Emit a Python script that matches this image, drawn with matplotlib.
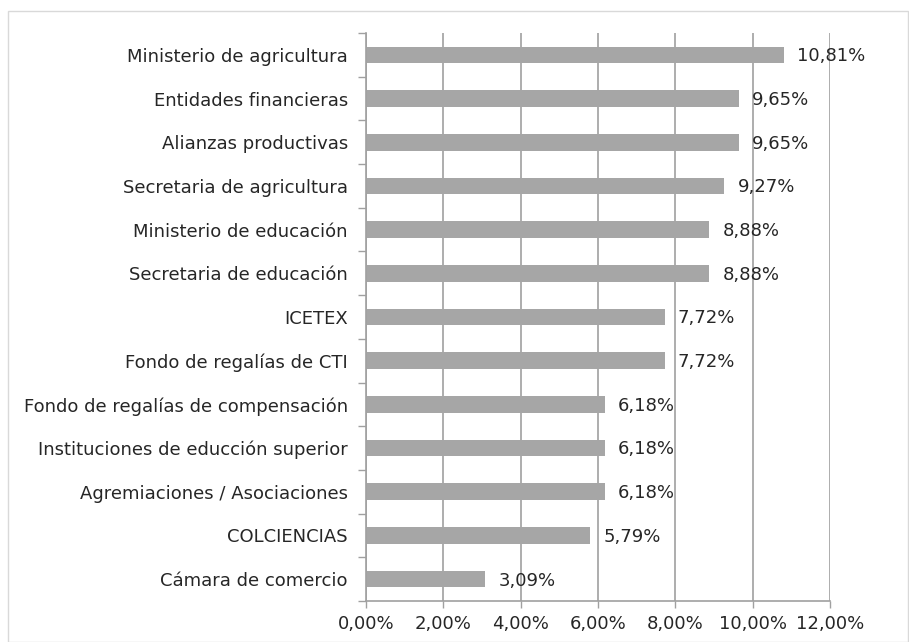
import matplotlib.pyplot as plt
from matplotlib.patches import Rectangle

categories = [
    "Ministerio de agricultura",
    "Entidades financieras",
    "Alianzas productivas",
    "Secretaria de agricultura",
    "Ministerio de educación",
    "Secretaria de educación",
    "ICETEX",
    "Fondo de regalías de CTI",
    "Fondo de regalías de compensación",
    "Instituciones de educción superior",
    "Agremiaciones / Asociaciones",
    "COLCIENCIAS",
    "Cámara de comercio",
]
values = [10.81, 9.65, 9.65, 9.27, 8.88, 8.88, 7.72, 7.72, 6.18, 6.18, 6.18, 5.79, 3.09]
xticks = [0, 2, 4, 6, 8, 10, 12]

plt.rcParams['font.family'] = ['DejaVu Sans']
line_col = "#a0a0a0"
txt_col = "#262626"
fs = 13

fig = plt.figure(figsize=(9.09, 6.42), dpi=100)
fig.patches.append(Rectangle((8 / 909, 0.0), 900 / 909, 631 / 642, transform=fig.transFigure,
                             fill=False, edgecolor="#d9d9d9", linewidth=1))
ax = fig.add_axes([366 / 909, 41 / 642, 464 / 909, 568 / 642])

n = len(categories)
ypos = list(range(n))[::-1]
ax.barh(ypos, values, height=0.38, color="#a6a6a6", zorder=2)
for y, v in zip(ypos, values):
    ax.annotate(f"{v:.2f}%".replace(".", ","), (v, y), xytext=(9.5, -1), textcoords="offset points",
                va="center", ha="left", fontsize=fs, color=txt_col, zorder=3)

ax.set_xlim(0, 12)
ax.set_ylim(-0.5, n - 0.5)
ax.set_xticks(xticks)
ax.set_xticklabels([f"{t:.2f}%".replace(".", ",") for t in xticks], fontsize=fs, color=txt_col)
ax.set_yticks(ypos)
ax.set_yticklabels(categories, fontsize=fs, color=txt_col)
ax.set_yticks([i - 0.5 for i in range(n + 1)], minor=True)
ax.tick_params(axis="y", which="major", length=0, pad=13)
ax.tick_params(axis="y", which="minor", length=6, color=line_col, width=1)
ax.tick_params(axis="x", length=5, color=line_col, width=1, pad=5)
ax.grid(axis="x", color=line_col, linewidth=1.2, zorder=1)
for s in ["top", "right"]:
    ax.spines[s].set_visible(False)
for s in ["left", "bottom"]:
    ax.spines[s].set_color(line_col)
    ax.spines[s].set_linewidth(1.2)

fig.savefig("out.png", dpi=100)
